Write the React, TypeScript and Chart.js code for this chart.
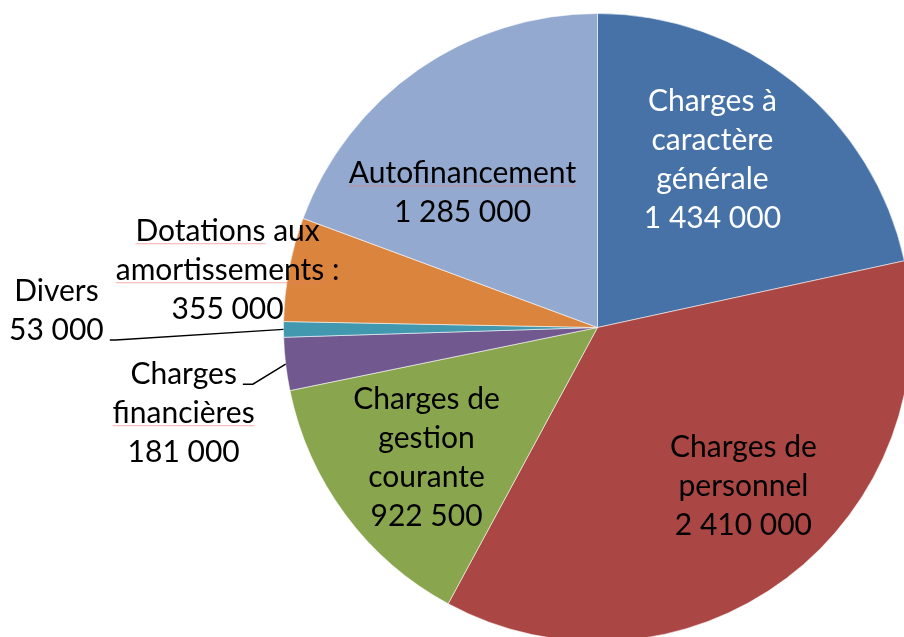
import React, { useEffect, useRef } from "react";
import { Chart, registerables } from "chart.js";

Chart.register(...registerables);

const categories = [
  "Charges à caractère générale",
  "Charges de personnel",
  "Charges de gestion courante",
  "Charges financières",
  "Divers",
  "Dotations aux amortissements",
  "Autofinancement",
];
const values = [1434000, 2410000, 922500, 181000, 53000, 355000, 1285000];
const labelLines = [
  ["Charges à", "caractère", "générale"],
  ["Charges de", "personnel"],
  ["Charges de", "gestion", "courante"],
  ["Charges", "financières"],
  ["Divers"],
  ["Dotations aux", "amortissements :"],
  ["Autofinancement"],
];
const colors = ["#4672A8", "#AA4643", "#89A54E", "#71588F", "#4198AF", "#DB843D", "#93A9CF"];
const textColors = ["#ffffff", "#000000", "#000000", "#000000", "#000000", "#000000", "#000000"];
const spellMarked = ["Autofinancement", "Dotations", "amortissements", "financières"];

// label layout: angle (deg, clockwise from top) and radius as fraction of outer radius
const labelAngle = [34.4, 137.35, 232.65, 258.3, 271.8, 278.8, 314.9];
const labelRadius = [0.648, 0.686, 0.685, 1.346, 1.724, 1.192, 0.607];
// leader: which line index it attaches to (-1 none), horizontal segment length
const leaderLine = [-1, -1, -1, 0, 1, -1, -1];
const leaderFlat = [0, 0, 0, 10, 6, 0, 0];

const FONT_FAMILY = "Lato, 'Noto Sans', sans-serif";
const FONT_SIZE = 30;
const LINE_H = 39;
const CAP_H = 20;

const fmt = (v: number) => v.toString().replace(/\B(?=(\d{3})+(?!\d))/g, " ");

const labelPlugin = {
  id: "sliceLabels",
  afterDatasetsDraw(chart: any) {
    const ctx = chart.ctx as CanvasRenderingContext2D;
    const meta = chart.getDatasetMeta(0);
    ctx.save();
    ctx.font = `${FONT_SIZE}px ${FONT_FAMILY}`;
    ctx.textAlign = "center";
    ctx.textBaseline = "alphabetic";
    meta.data.forEach((arc: any, i: number) => {
      const p = arc.getProps(["x", "y", "outerRadius", "startAngle", "endAngle"], true);
      const a = ((labelAngle[i] - 90) * Math.PI) / 180;
      const r = p.outerRadius * labelRadius[i];
      const bx = p.x + r * Math.cos(a);
      const by = p.y + r * Math.sin(a);
      const lines = [...labelLines[i], fmt(values[i])];
      const n = lines.length;
      lines.forEach((ln, k) => {
        const base = by + (k - (n - 1) / 2) * LINE_H + CAP_H / 2;
        ctx.fillStyle = textColors[i];
        ctx.fillText(ln, bx, base);
        const w = ctx.measureText(ln).width;
        const left = bx - w / 2;
        // spell-check underline
        const words = ln.split(" ");
        let off = 0;
        words.forEach((wd) => {
          const ww = ctx.measureText(wd).width;
          if (spellMarked.includes(wd)) {
            ctx.strokeStyle = "rgba(235,120,120,0.6)";
            ctx.lineWidth = 1;
            ctx.beginPath();
            ctx.moveTo(left + off, base + 2.5);
            ctx.lineTo(left + off + ww, base + 2.5);
            ctx.stroke();
          }
          off += ww + ctx.measureText(" ").width;
        });
        if (leaderLine[i] === k) {
          const mid = (p.startAngle + p.endAngle) / 2;
          const ex = p.x + p.outerRadius * Math.cos(mid);
          const ey = p.y + p.outerRadius * Math.sin(mid);
          const sx = bx + w / 2 + 6;
          ctx.strokeStyle = "#000000";
          ctx.lineWidth = 1.4;
          ctx.beginPath();
          ctx.moveTo(sx, base);
          ctx.lineTo(sx + leaderFlat[i], base);
          ctx.lineTo(ex, ey);
          ctx.stroke();
        }
      });
    });
    ctx.restore();
  },
};

export default function App() {
  const ref = useRef<HTMLCanvasElement>(null);
  useEffect(() => {
    document.body.style.margin = "0";
    const chart = new Chart(ref.current!, {
      type: "pie",
      data: {
        labels: categories,
        datasets: [
          {
            data: values,
            backgroundColor: colors,
            borderColor: "rgba(255,255,255,0.55)",
            borderWidth: 1,
          },
        ],
      },
      options: {
        responsive: false,
        maintainAspectRatio: false,
        animation: false,
        devicePixelRatio: 1,
        layout: { padding: { left: 283, right: 8, top: 13, bottom: 18 } },
        plugins: { legend: { display: false }, tooltip: { enabled: false } },
      },
      plugins: [labelPlugin],
    });
    return () => chart.destroy();
  }, []);
  return (
    <div style={{ position: "absolute", left: 0, top: 0, width: 904, height: 637, overflow: "hidden", background: "#fff" }}>
      <canvas ref={ref} width={920} height={660} style={{ width: 920, height: 660, display: "block" }} />
    </div>
  );
}
